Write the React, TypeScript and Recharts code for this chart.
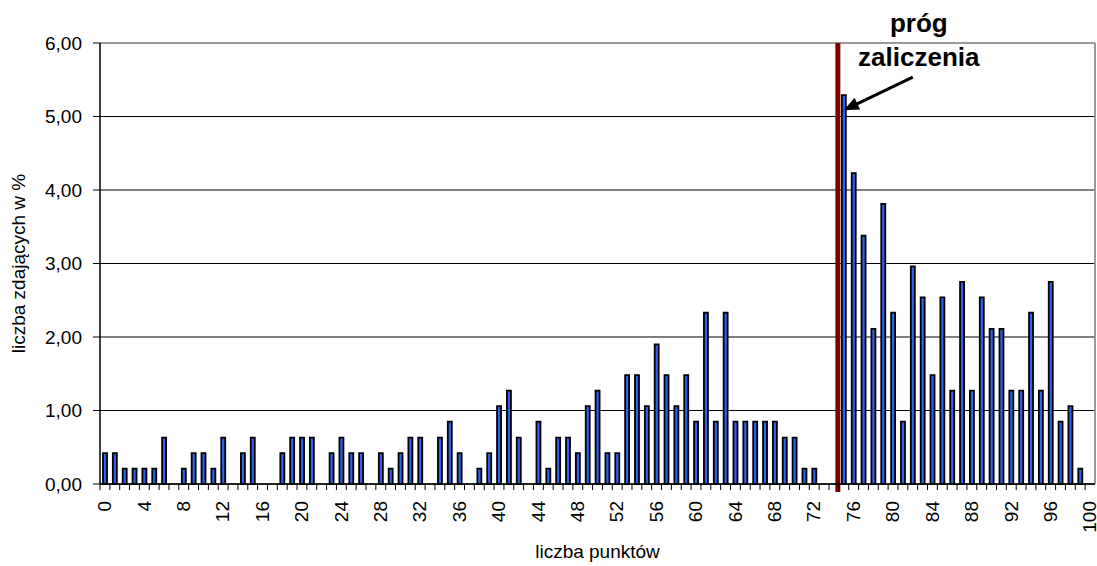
import { BarChart, Bar, XAxis, YAxis, CartesianGrid, ReferenceLine, ReferenceDot, Label } from 'recharts';

// punkty (0-100) i odsetek zdających w %
const points = [
  0, 1, 2, 3, 4, 5, 6, 7, 8, 9,
  10, 11, 12, 13, 14, 15, 16, 17, 18, 19,
  20, 21, 22, 23, 24, 25, 26, 27, 28, 29,
  30, 31, 32, 33, 34, 35, 36, 37, 38, 39,
  40, 41, 42, 43, 44, 45, 46, 47, 48, 49,
  50, 51, 52, 53, 54, 55, 56, 57, 58, 59,
  60, 61, 62, 63, 64, 65, 66, 67, 68, 69,
  70, 71, 72, 73, 74, 75, 76, 77, 78, 79,
  80, 81, 82, 83, 84, 85, 86, 87, 88, 89,
  90, 91, 92, 93, 94, 95, 96, 97, 98, 99, 100,
];

const shares = [
  0.42, 0.42, 0.21, 0.21, 0.21, 0.21, 0.63, 0, 0.21, 0.42,
  0.42, 0.21, 0.63, 0, 0.42, 0.63, 0, 0, 0.42, 0.63,
  0.63, 0.63, 0, 0.42, 0.63, 0.42, 0.42, 0, 0.42, 0.21,
  0.42, 0.63, 0.63, 0, 0.63, 0.85, 0.42, 0, 0.21, 0.42,
  1.06, 1.27, 0.63, 0, 0.85, 0.21, 0.63, 0.63, 0.42, 1.06,
  1.27, 0.42, 0.42, 1.48, 1.48, 1.06, 1.90, 1.48, 1.06, 1.48,
  0.85, 2.33, 0.85, 2.33, 0.85, 0.85, 0.85, 0.85, 0.85, 0.63,
  0.63, 0.21, 0.21, 0, 0, 5.29, 4.23, 3.38, 2.11, 3.81,
  2.33, 0.85, 2.96, 2.54, 1.48, 2.54, 1.27, 2.75, 1.27, 2.54,
  2.11, 2.11, 1.27, 1.27, 2.33, 1.27, 2.75, 0.85, 1.06, 0.21, 0,
];

const yTicks = [0, 1, 2, 3, 4, 5, 6];
const labelEvery = 4;
const passThreshold = 75;
const annotationLines = ['próg', 'zaliczenia'];

const data = points.map((p, i) => ({ pkt: p, udzial: shares[i] }));

const W = 1097;
const H = 566;
const Y_AXIS_W = 100;
const X_AXIS_H = 82;
const MARGIN = { top: 43, right: 2, left: 0, bottom: 0 };
const PLOT_W = W - MARGIN.left - MARGIN.right - Y_AXIS_W;
const BAND = PLOT_W / points.length;
const FONT = '"Liberation Sans", Arial, sans-serif';

const fmt = (v: number) => v.toFixed(2).replace('.', ',');

function XTick(props: any) {
  const { x, y, payload } = props;
  const left = x - BAND / 2;
  const ty = y + 17;
  return (
    <g>
      <line x1={left} x2={left} y1={y} y2={y + 6} stroke="#000" strokeWidth={1} />
      {payload.value % labelEvery === 0 && (
        <text
          x={x}
          y={ty}
          transform={`rotate(-90 ${x} ${ty})`}
          textAnchor="end"
          dy="0.33em"
          fontSize={19}
          fontFamily={FONT}
          fill="#000"
        >
          {payload.value}
        </text>
      )}
    </g>
  );
}

function ThresholdLine(props: any) {
  const { x1, y1, x2, y2 } = props;
  const top = Math.min(y1, y2);
  const bottom = Math.max(y1, y2);
  return <line x1={x1 - 1} x2={x2 - 1} y1={top} y2={bottom + 8} stroke="#800000" strokeWidth={5} />;
}

function Annotation(props: any) {
  const { cx, cy } = props;
  const tip = { x: cx, y: cy + 15 };
  const tail = { x: cx + 69, y: cy - 18 };
  const dx = tip.x - tail.x;
  const dy = tip.y - tail.y;
  const len = Math.sqrt(dx * dx + dy * dy);
  const ux = dx / len;
  const uy = dy / len;
  const headL = 15;
  const headW = 6.5;
  const bx = tip.x - ux * headL;
  const by = tip.y - uy * headL;
  const head = `${tip.x},${tip.y} ${bx - uy * headW},${by + ux * headW} ${bx + uy * headW},${by - ux * headW}`;
  return (
    <g>
      <line x1={tail.x} y1={tail.y} x2={bx + ux * 2} y2={by + uy * 2} stroke="#000" strokeWidth={3} />
      <polygon points={head} fill="#000" />
      {annotationLines.map((t, i) => (
        <text
          key={t}
          x={cx + 75}
          y={cy - 63 + i * 34}
          textAnchor="middle"
          fontSize={26}
          fontWeight="bold"
          fontFamily={FONT}
          fill="#000"
        >
          {t}
        </text>
      ))}
    </g>
  );
}

export default function App() {
  return (
    <div style={{ position: 'absolute', left: 0, top: 0, background: '#fff' }}>
      <BarChart width={W} height={H} data={data} margin={MARGIN} style={{ fontFamily: FONT }}>
        <CartesianGrid vertical={false} stroke="#000" strokeWidth={1} />
        <XAxis
          dataKey="pkt"
          type="category"
          interval={0}
          height={X_AXIS_H}
          tickLine={false}
          tickSize={0}
          tickMargin={0}
          axisLine={{ stroke: '#000', strokeWidth: 1.5 }}
          tick={<XTick />}
        >
          <Label
            content={(p: any) => {
              const vb = p.viewBox;
              return (
                <text
                  x={vb.x + vb.width / 2}
                  y={vb.y + vb.height - 8}
                  textAnchor="middle"
                  fontSize={19}
                  fontFamily={FONT}
                  fill="#000"
                >
                  liczba punktów
                </text>
              );
            }}
          />
        </XAxis>
        <YAxis
          width={Y_AXIS_W}
          domain={[0, 6]}
          ticks={yTicks}
          tickFormatter={fmt}
          tickSize={7}
          tickMargin={11}
          tickLine={{ stroke: '#000' }}
          axisLine={{ stroke: '#000', strokeWidth: 1.5 }}
          tick={{ fontSize: 19, fill: '#000', fontFamily: FONT }}
        >
          <Label
            content={(p: any) => {
              const vb = p.viewBox;
              const lx = vb.x + 18;
              const ly = vb.y + vb.height / 2;
              return (
                <text
                  x={lx}
                  y={ly}
                  transform={`rotate(-90 ${lx} ${ly})`}
                  textAnchor="middle"
                  dy="0.35em"
                  fontSize={19}
                  fontFamily={FONT}
                  fill="#000"
                >
                  liczba zdających w %
                </text>
              );
            }}
          />
        </YAxis>
        <ReferenceLine y={6} stroke="#999" strokeWidth={2} />
        <ReferenceLine x={100} position="end" stroke="#999" strokeWidth={2} />
        <Bar
          dataKey="udzial"
          fill="#2f62ee"
          stroke="#000"
          strokeWidth={1.8}
          barSize={4}
          isAnimationActive={false}
        />
        <ReferenceLine x={passThreshold} position="start" shape={<ThresholdLine />} />
        <ReferenceDot x={passThreshold} y={shares[passThreshold]} shape={<Annotation />} />
      </BarChart>
    </div>
  );
}
